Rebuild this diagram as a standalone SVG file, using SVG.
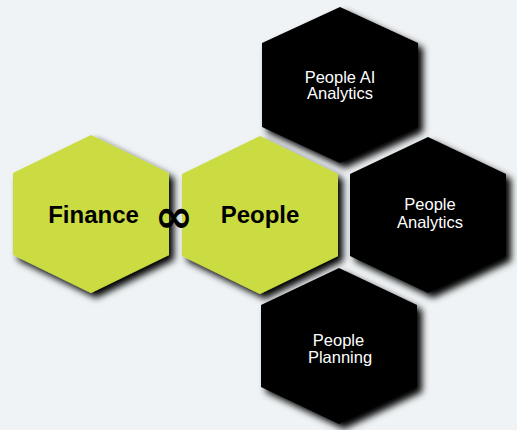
<svg xmlns="http://www.w3.org/2000/svg" width="517" height="430" viewBox="0 0 517 430">
<defs>
<filter id="sh" x="-20%" y="-20%" width="150%" height="150%">
<feGaussianBlur in="SourceAlpha" stdDeviation="3.5"/>
<feOffset dx="5" dy="5" result="b"/>
<feFlood flood-color="#000" flood-opacity="1"/>
<feComposite in2="b" operator="in"/>
<feMerge><feMergeNode/><feMergeNode in="SourceGraphic"/></feMerge>
</filter>
</defs>
<style>
.g{fill:#cbdb43;filter:url(#sh)}
.k{fill:#000;filter:url(#sh)}
.bt{font-family:"Liberation Sans",Arial,sans-serif;font-weight:bold;font-size:24px;fill:#000;text-anchor:middle}
.wt{font-family:"Liberation Sans",Arial,sans-serif;font-size:16.5px;fill:#fff;text-anchor:middle}
</style>
<rect width="517" height="430" fill="#eff3f5"/>
<g id="connectors"/>
<g id="people-ai-analytics">
<polygon class="k" points="340,7 418,43 418,127 340,163 262,127 262,43"/>
<text class="wt" x="340" y="82.5">People AI</text>
<text class="wt" x="340" y="99">Analytics</text>
</g>
<g id="people-analytics">
<polygon class="k" points="428,137 506,174 506,256 428,293 350,256 350,174"/>
<text class="wt" x="430" y="210">People</text>
<text class="wt" x="430" y="227.5">Analytics</text>
</g>
<g id="people-planning">
<polygon class="k" points="339,268 417,305 417,387 339,424 261,387 261,305"/>
<text class="wt" x="338.5" y="346">People</text>
<text class="wt" x="340" y="363">Planning</text>
</g>
<g id="finance">
<polygon class="g" points="91,135 169,173 169,255 91,293 13,255 13,173"/>
<text class="bt" x="93.5" y="222.5">Finance</text>
</g>
<g id="people">
<polygon class="g" points="260,136 338,174 338,256 260,294 182,256 182,174"/>
<text class="bt" x="260" y="222.5">People</text>
</g>
<g id="infinity">
<text x="174" y="232" font-family="DejaVu Sans,sans-serif" font-weight="bold" font-size="46" text-anchor="middle" fill="#000">∞</text>
</g>
</svg>
